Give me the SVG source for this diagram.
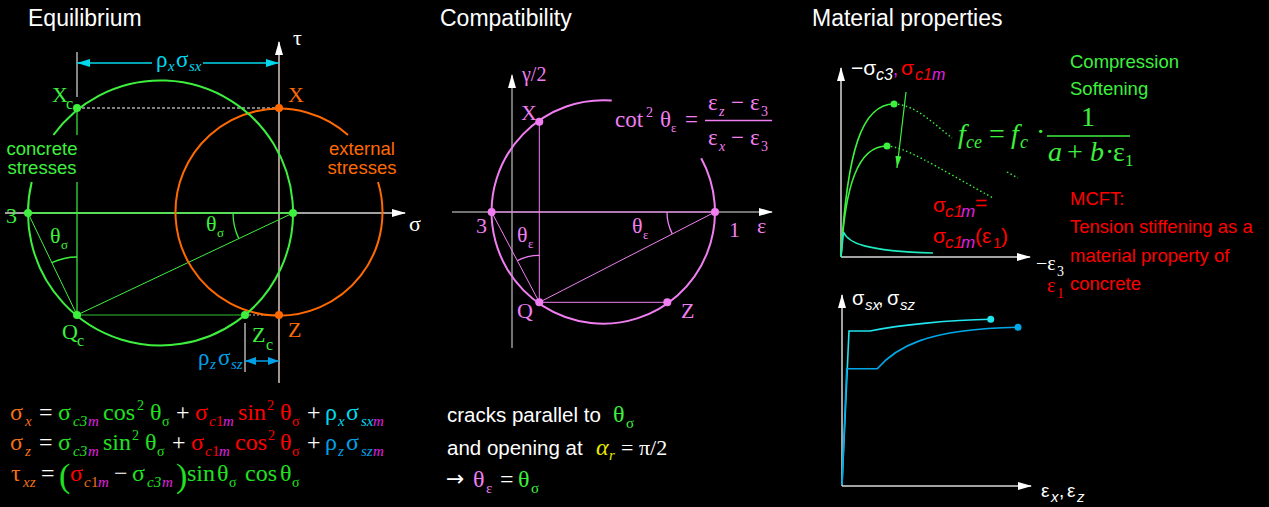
<svg xmlns="http://www.w3.org/2000/svg" width="1269" height="507" viewBox="0 0 1269 507">
<style>
.sans{font-family:"Liberation Sans",Arial,sans-serif}
.serif{font-family:"Liberation Serif","Times New Roman",serif}
.it{font-style:italic}
.title{font-family:"Liberation Sans",Arial,sans-serif;font-size:23px;fill:#fff}
.lbl{font-family:"Liberation Sans",Arial,sans-serif;font-size:18.5px}
.pt{font-family:"Liberation Serif",serif;font-size:22px}
.eq{font-family:"Liberation Serif",serif;font-size:24px}
.eqs{font-size:15px;font-style:italic}
.ax{stroke:#d8d8d8;stroke-width:1.5;fill:none}
.gr{stroke:#3ef03e;fill:none}
.or{stroke:#ff6a00;fill:none}
.pk{stroke:#f07ef0;fill:none}
.g{fill:#3ef03e}.o{fill:#ff6a00}.p{fill:#f07ef0}.w{fill:#fff}.r{fill:#ff0000}.m{fill:#e020e0}.c{fill:#00d8ee}.b{fill:#00a0e8}.eg{fill:#22e022}.eo{fill:#f07018}.y{fill:#e8e800}
</style>
<defs>
<marker id="axw" viewBox="0 0 14 8" refX="13" refY="4" markerWidth="14" markerHeight="8" markerUnits="userSpaceOnUse" orient="auto"><path d="M0,0 L14,4 L0,8 z" fill="#fff"/></marker>
<marker id="ac" viewBox="0 0 13 8" refX="13" refY="4" markerWidth="13" markerHeight="8" markerUnits="userSpaceOnUse" orient="auto-start-reverse"><path d="M0,0 L13,4 L0,8 z" fill="#00d8ee"/></marker>
<marker id="ab" viewBox="0 0 11 8" refX="11" refY="4" markerWidth="11" markerHeight="8" markerUnits="userSpaceOnUse" orient="auto-start-reverse"><path d="M0,0 L11,4 L0,8 z" fill="#00a0e8"/></marker>
<marker id="ag" viewBox="0 0 12 6" refX="12" refY="3" markerWidth="12" markerHeight="6" markerUnits="userSpaceOnUse" orient="auto"><path d="M0,0 L12,3 L0,6 z" fill="#3ef03e"/></marker>
</defs>
<rect width="1269" height="507" fill="#000"/>

<!-- Titles -->
<text class="title" x="28" y="26">Equilibrium</text>
<text class="title" x="440" y="26">Compatibility</text>
<text class="title" x="812" y="26">Material properties</text>

<!-- ===== Equilibrium ===== -->
<g id="connectors">
  <line class="ax" x1="5" y1="213" x2="405" y2="213" marker-end="url(#axw)"/>
  <line x1="279" y1="383" x2="279" y2="42" stroke="#ffe4d8" stroke-width="1.3" marker-end="url(#axw)"/>
  <line x1="77" y1="52" x2="77" y2="97" stroke="#b0b0b0" stroke-width="1.5"/>
  <line x1="245" y1="323" x2="245" y2="372" stroke="#b0b0b0" stroke-width="1.5"/>
  <line x1="77" y1="108" x2="279" y2="108" stroke="#fff" stroke-width="1.2" stroke-dasharray="3,2"/>
  <line x1="245" y1="315" x2="279" y2="315" stroke="#bbb" stroke-width="1.2" stroke-dasharray="2,2"/>
  <line x1="77" y1="63" x2="152" y2="63" stroke="#00d8ee" stroke-width="1.5" marker-start="url(#ac)"/>
  <line x1="203" y1="63" x2="279" y2="63" stroke="#00d8ee" stroke-width="1.5" marker-end="url(#ac)"/>
  <line x1="245" y1="361" x2="279" y2="361" stroke="#00a0e8" stroke-width="1.5" marker-start="url(#ab)" marker-end="url(#ab)"/>
  <line class="gr" x1="28" y1="213" x2="293" y2="213" stroke-width="1.3"/>
  <line class="gr" x1="77" y1="108" x2="77" y2="135" stroke-width="1.2"/>
  <line class="gr" x1="77" y1="182" x2="77" y2="315" stroke-width="1.2"/>
  <line class="gr" x1="28" y1="213" x2="77" y2="315" stroke-width="1"/>
  <line class="gr" x1="77" y1="315" x2="293" y2="213" stroke-width="1"/>
  <line x1="77" y1="315" x2="245" y2="315" stroke="#30c030" stroke-width="1"/>
  <path class="gr" d="M77,257 A58,58 0 0 0 51.9,262.7" stroke-width="1.3"/>
  <path class="gr" d="M233,213 A60,60 0 0 0 238.8,238.6" stroke-width="1.3"/>
</g>
<g id="circle-external">
  <path class="or" d="M378,182 A103.5,103.5 0 1 1 348,135" stroke-width="2"/>
  <circle class="o" cx="279" cy="108" r="4"/>
  <circle class="o" cx="279" cy="315" r="4"/>
</g>
<g id="circle-concrete">
  <path class="gr" d="M53.4,135 A132.5,132.5 0 1 1 31.7,182" stroke-width="2"/>
  <circle class="g" cx="77" cy="108" r="4"/>
  <circle class="g" cx="28" cy="213" r="4"/>
  <circle class="g" cx="293" cy="213" r="4"/>
  <circle class="g" cx="77" cy="315" r="4"/>
  <circle class="g" cx="245" cy="315" r="4"/>
</g>
<g id="eq-labels">
  <text class="serif w" x="293" y="45" font-size="22">τ</text>
  <text class="serif w" x="409" y="231" font-size="22">σ</text>
  <text class="serif c" x="156" y="67" font-size="23">ρ<tspan class="it" x="168" y="71" font-size="15">x</tspan><tspan x="176" y="67">σ</tspan><tspan class="it" x="189" y="71" font-size="15">sx</tspan></text>
  <text class="serif b" x="198" y="365" font-size="23">ρ<tspan class="it" x="210" y="369" font-size="15">z</tspan><tspan x="218" y="365">σ</tspan><tspan class="it" x="231" y="369" font-size="15">sz</tspan></text>
  <text class="pt g" x="52" y="102">X<tspan x="66" y="109" font-size="16">c</tspan></text>
  <text class="pt o" x="288" y="102">X</text>
  <text class="pt g" x="6" y="223">3</text>
  <text class="pt g" x="62" y="339">Q<tspan x="77" y="346" font-size="16">c</tspan></text>
  <text class="pt g" x="252" y="342">Z<tspan x="266" y="350" font-size="16">c</tspan></text>
  <text class="pt o" x="288" y="337">Z</text>
  <text class="pt g" x="50" y="243">θ<tspan x="61" y="249" font-size="13">σ</tspan></text>
  <text class="pt g" x="206" y="231">θ<tspan x="217" y="237" font-size="13">σ</tspan></text>
  <text class="lbl g" x="42" y="155" text-anchor="middle" font-size="15">concrete</text>
  <text class="lbl g" x="42" y="174" text-anchor="middle" font-size="15">stresses</text>
  <text class="lbl o" x="362" y="155" text-anchor="middle" font-size="15">external</text>
  <text class="lbl o" x="362" y="174" text-anchor="middle" font-size="15">stresses</text>
</g>
<g id="equations">
  <text class="eq"><tspan class="eo" x="10" y="420">σ</tspan><tspan class="eo eqs" x="25" y="426">x</tspan><tspan class="w" x="39" y="420">=</tspan><tspan class="eg" x="58" y="420">σ</tspan><tspan class="eg eqs" x="73" y="426">c3</tspan><tspan class="m eqs" x="88" y="426">m</tspan><tspan class="eg" x="103" y="420">cos</tspan><tspan class="eg" x="137" y="410" font-size="14">2</tspan><tspan class="eg" x="150" y="420">θ</tspan><tspan class="eg" x="162" y="426" font-size="14">σ</tspan><tspan class="w" x="176" y="420">+</tspan><tspan class="r" x="195" y="420">σ</tspan><tspan class="r eqs" x="209" y="426">c</tspan><tspan class="r" x="216" y="426" font-size="15">1</tspan><tspan class="m eqs" x="223" y="426">m</tspan><tspan class="r" x="238" y="420">sin</tspan><tspan class="r" x="267" y="410" font-size="14">2</tspan><tspan class="r" x="280" y="420">θ</tspan><tspan class="r" x="292" y="426" font-size="14">σ</tspan><tspan class="w" x="307" y="420">+</tspan><tspan class="c" x="325" y="420">ρ</tspan><tspan class="c eqs" x="338" y="426">x</tspan><tspan class="c" x="346" y="420">σ</tspan><tspan class="c eqs" x="361" y="426">sx</tspan><tspan class="m eqs" x="373" y="426">m</tspan></text>
  <text class="eq"><tspan class="eo" x="10" y="450">σ</tspan><tspan class="eo eqs" x="25" y="456">z</tspan><tspan class="w" x="39" y="450">=</tspan><tspan class="eg" x="58" y="450">σ</tspan><tspan class="eg eqs" x="73" y="456">c3</tspan><tspan class="m eqs" x="88" y="456">m</tspan><tspan class="eg" x="103" y="450">sin</tspan><tspan class="eg" x="132" y="440" font-size="14">2</tspan><tspan class="eg" x="145" y="450">θ</tspan><tspan class="eg" x="157" y="456" font-size="14">σ</tspan><tspan class="w" x="172" y="450">+</tspan><tspan class="r" x="191" y="450">σ</tspan><tspan class="r eqs" x="205" y="456">c</tspan><tspan class="r" x="212" y="456" font-size="15">1</tspan><tspan class="m eqs" x="219" y="456">m</tspan><tspan class="r" x="235" y="450">cos</tspan><tspan class="r" x="268" y="440" font-size="14">2</tspan><tspan class="r" x="280" y="450">θ</tspan><tspan class="r" x="292" y="456" font-size="14">σ</tspan><tspan class="w" x="307" y="450">+</tspan><tspan class="b" x="325" y="450">ρ</tspan><tspan class="b eqs" x="338" y="456">z</tspan><tspan class="b" x="346" y="450">σ</tspan><tspan class="b eqs" x="361" y="456">sz</tspan><tspan class="m eqs" x="373" y="456">m</tspan></text>
  <text class="eq"><tspan class="eo" x="11" y="481">τ</tspan><tspan class="eo eqs" x="23" y="487">xz</tspan><tspan class="w" x="41" y="481">=</tspan><tspan class="eg" x="59" y="487" font-size="34">(</tspan><tspan class="r" x="70" y="481">σ</tspan><tspan class="eo eqs" x="84" y="487">c</tspan><tspan class="eo" x="91" y="487" font-size="15">1</tspan><tspan class="m eqs" x="98" y="487">m</tspan><tspan class="w" x="114" y="481">−</tspan><tspan class="eg" x="132" y="481">σ</tspan><tspan class="eg eqs" x="147" y="487">c3</tspan><tspan class="m eqs" x="162" y="487">m</tspan><tspan class="eg" x="176" y="487" font-size="34">)</tspan><tspan class="eg" x="187" y="481">sin</tspan><tspan class="eg" x="217" y="481">θ</tspan><tspan class="eg" x="229" y="487" font-size="14">σ</tspan><tspan class="eg" x="245" y="481">cos</tspan><tspan class="eg" x="280" y="481">θ</tspan><tspan class="eg" x="292" y="487" font-size="14">σ</tspan></text>
</g>

<!-- ===== Compatibility ===== -->
<g id="compat-axes">
  <line x1="512" y1="348" x2="512" y2="75" stroke="#9a9a9a" stroke-width="1.5" marker-end="url(#axw)"/>
  <line x1="452" y1="212" x2="772" y2="212" stroke="#9a9a9a" stroke-width="1.5" marker-end="url(#axw)"/>
</g>
<g id="compat-lines">
  <line class="pk" x1="491.6" y1="212" x2="715" y2="212" stroke-width="1.2"/>
  <line class="pk" x1="539.3" y1="121.7" x2="539.3" y2="302.3" stroke-width="1"/>
  <line class="pk" x1="491.6" y1="212" x2="539.3" y2="302.3" stroke-width="1"/>
  <line class="pk" x1="539.3" y1="302.3" x2="715" y2="212" stroke-width="1"/>
  <line class="pk" x1="539.3" y1="302.3" x2="667.3" y2="302.3" stroke-width="1"/>
  <path class="pk" d="M539.3,255.3 A47,47 0 0 0 517.3,260.7" stroke-width="1.3"/>
  <path class="pk" d="M667,212 A48,48 0 0 0 672.3,233.9" stroke-width="1.3"/>
</g>
<g id="mohr-strain">
  <path class="pk" d="M701.2,158.3 A111.7,111.7 0 1 1 611.7,100.6" stroke-width="2"/>
  <circle class="p" cx="491.6" cy="212" r="4"/>
  <circle class="p" cx="715" cy="212" r="4"/>
  <circle class="p" cx="539.3" cy="121.7" r="4"/>
  <circle class="p" cx="539.3" cy="302.3" r="4"/>
  <circle class="p" cx="667.3" cy="302.3" r="4"/>
</g>
<g id="compat-labels">
  <text class="serif p" x="522" y="81" font-size="20">γ/2</text>
  <text class="pt p" x="521" y="120">X</text>
  <text class="pt p" x="476" y="233">3</text>
  <text class="pt p" x="729" y="237">1</text>
  <text class="pt p" x="757" y="233">ε</text>
  <text class="pt p" x="517" y="318">Q</text>
  <text class="pt p" x="681" y="318">Z</text>
  <text class="pt p" x="517" y="242">θ<tspan x="528" y="248" font-size="13">ε</tspan></text>
  <text class="pt p" x="632" y="233">θ<tspan x="643" y="239" font-size="13">ε</tspan></text>
  <text class="serif p" font-size="23"><tspan x="615" y="127">cot</tspan><tspan x="646" y="117" font-size="14">2</tspan><tspan x="660" y="127">θ</tspan><tspan x="671" y="132" font-size="13">ε</tspan><tspan x="685" y="127">=</tspan><tspan x="708" y="110">ε</tspan><tspan class="it" x="719" y="116" font-size="14">z</tspan><tspan x="731" y="110">−</tspan><tspan x="750" y="110">ε</tspan><tspan x="761" y="116" font-size="14">3</tspan><tspan x="708" y="145">ε</tspan><tspan class="it" x="719" y="151" font-size="14">x</tspan><tspan x="731" y="145">−</tspan><tspan x="750" y="145">ε</tspan><tspan x="761" y="151" font-size="14">3</tspan></text>
  <line x1="705" y1="120.5" x2="772" y2="120.5" stroke="#f07ef0" stroke-width="1.5"/>
</g>
<g id="compat-text">
  <text class="sans w" x="447" y="422" font-size="20.5">cracks parallel to</text>
  <text class="serif g" x="613" y="422" font-size="24">θ<tspan x="626" y="428" font-size="15">σ</tspan></text>
  <text class="sans w" x="447" y="455" font-size="20.5">and opening at</text>
  <text class="serif" y="455"><tspan class="it y" x="596" font-size="24">α</tspan><tspan class="it y" x="609" y="460" font-size="15">r</tspan><tspan class="w" x="621" y="455" font-size="22">= π/2</tspan></text>
  <text class="w" x="446" y="486" font-size="22" style="font-family:'DejaVu Sans',sans-serif">→</text>
  <text class="serif" y="487" font-size="24"><tspan class="p" x="473">θ</tspan><tspan class="p" x="486" y="493" font-size="15">ε</tspan><tspan class="w" x="500" y="487">=</tspan><tspan class="g" x="518">θ</tspan><tspan class="g" x="531" y="493" font-size="15">σ</tspan></text>
</g>

<!-- ===== Material properties ===== -->
<g id="concrete-chart">
  <line class="ax" x1="841" y1="257" x2="841" y2="68" marker-end="url(#axw)"/>
  <line class="ax" x1="841" y1="257" x2="1030" y2="257" marker-end="url(#axw)"/>
  <path d="M841,257 C847,150 862,104 894,104" stroke="#3ef03e" stroke-width="1.6" fill="none"/>
  <path d="M841,257 C845,185 858,146 887,146" stroke="#3ef03e" stroke-width="1.6" fill="none"/>
  <path d="M894,104 C915,104 935,125 952,138" stroke="#3ef03e" stroke-width="1.4" fill="none" stroke-dasharray="1.5,2.5"/>
  <path d="M1007,172 L1018,178" stroke="#3ef03e" stroke-width="1.4" fill="none" stroke-dasharray="1.5,2.5"/>
  <path d="M887,146 C905,147 930,163 993,198" stroke="#3ef03e" stroke-width="1.4" fill="none" stroke-dasharray="1.5,2.5"/>
  <circle class="g" cx="894" cy="104" r="3.5"/>
  <circle class="g" cx="887" cy="146" r="3.5"/>
  <line x1="906" y1="92" x2="897" y2="168" stroke="#3ef03e" stroke-width="1.2" marker-end="url(#ag)"/>
  <path d="M841,257 L843.5,232 C848,243 865,251 933,253" stroke="#20e8c0" stroke-width="1.6" fill="none"/>
</g>
<g id="concrete-labels">
  <text class="sans w" x="851" y="75" font-size="21">−σ<tspan class="it" x="876" y="80" font-size="16">c3</tspan><tspan class="m" x="893" y="75" font-size="18">,</tspan><tspan class="r" x="901" y="75">σ</tspan><tspan class="r it" x="915" y="80" font-size="16">c1</tspan><tspan class="m it" x="932" y="80" font-size="16">m</tspan></text>
  <text class="lbl g" x="1070" y="68">Compression</text>
  <text class="lbl g" x="1070" y="95">Softening</text>
  <text class="serif it g" font-size="28"><tspan x="958" y="143">f</tspan><tspan x="966" y="148" font-size="18">ce</tspan><tspan x="989" y="143" style="font-style:normal">=</tspan><tspan x="1011" y="143">f</tspan><tspan x="1020" y="148" font-size="18">c</tspan><tspan x="1036" y="141" style="font-style:normal">·</tspan><tspan x="1081" y="126" style="font-style:normal">1</tspan><tspan x="1048" y="161">a</tspan><tspan x="1067" y="161" style="font-style:normal">+</tspan><tspan x="1090" y="161">b</tspan><tspan x="1105" y="161" style="font-style:normal">·</tspan><tspan x="1113" y="161" style="font-style:normal">ε</tspan><tspan x="1125" y="166" font-size="17" style="font-style:normal">1</tspan></text>
  <line x1="1047" y1="136" x2="1130" y2="136" stroke="#3ef03e" stroke-width="1.5"/>
  <text class="sans r" x="933" y="212" font-size="21">σ<tspan class="it" x="945" y="217" font-size="17">c1</tspan><tspan class="m it" x="961" y="217" font-size="17">m</tspan><tspan x="975" y="210">=</tspan></text>
  <text class="sans r" x="933" y="243" font-size="21">σ<tspan class="it" x="945" y="248" font-size="17">c1</tspan><tspan class="m it" x="961" y="248" font-size="17">m</tspan><tspan x="975" y="243">(ε</tspan><tspan x="993" y="248" font-size="15">1</tspan><tspan x="1001" y="243">)</tspan></text>
  <text class="lbl r" x="1070" y="205">MCFT:</text>
  <text class="lbl r" x="1070" y="233">Tension stiffening as a</text>
  <text class="lbl r" x="1070" y="262">material property of</text>
  <text class="lbl r" x="1070" y="290">concrete</text>
  <text class="serif w" x="1036" y="270" font-size="20">−ε<tspan x="1057" y="276" font-size="14">3</tspan></text>
  <text class="serif r" x="1047" y="292" font-size="20">ε<tspan x="1057" y="298" font-size="14">1</tspan></text>
</g>
<g id="steel-chart">
  <line class="ax" x1="842" y1="486" x2="842" y2="295" marker-end="url(#axw)"/>
  <line class="ax" x1="842" y1="486" x2="1031" y2="486" marker-end="url(#axw)"/>
  <path d="M842,485 L849,331 L870,331 C900,325 950,320 990.7,319.3" stroke="#22e4ee" stroke-width="1.6" fill="none"/>
  <path d="M842,485 L846.7,368.7 L877.3,368.7 C895,348 925,329 1018,327.3" stroke="#00a8e8" stroke-width="1.6" fill="none"/>
  <circle cx="990.7" cy="319.3" r="3.5" fill="#22e4ee"/>
  <circle cx="1018" cy="327.3" r="3.5" fill="#00a8e8"/>
  <text class="sans w" x="852" y="305" font-size="20">σ<tspan class="it" x="865" y="310" font-size="15">sx</tspan><tspan x="878" y="305">,</tspan><tspan x="887" y="305">σ</tspan><tspan class="it" x="900" y="310" font-size="15">sz</tspan></text>
  <text class="sans w" x="1041" y="497" font-size="19">ε<tspan class="it" x="1051" y="502" font-size="15">x</tspan><tspan x="1059" y="497">,</tspan><tspan x="1067" y="497">ε</tspan><tspan class="it" x="1077" y="502" font-size="15">z</tspan></text>
</g>
</svg>
